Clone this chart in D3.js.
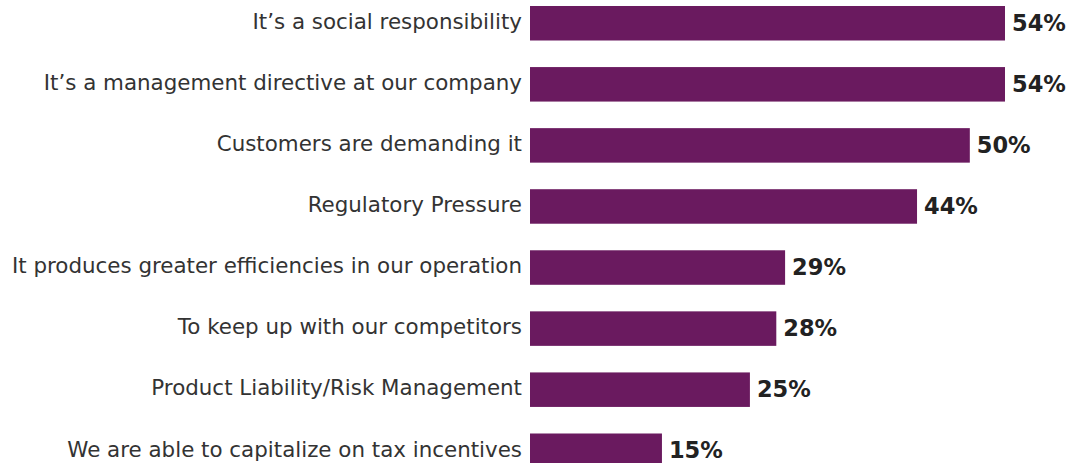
<!DOCTYPE html>
<html>
<head>
<meta charset="utf-8">
<script src="https://cdn.jsdelivr.net/npm/d3@7"></script>
<style>
  html, body { margin: 0; padding: 0; background: #ffffff; }
  svg { display: block; }
</style>
</head>
<body>
<svg id="chart" width="1073" height="463"></svg>
<script>
// Reasons given for the initiative, share of respondents (%)
const categories = [
  "It\u2019s a social responsibility",
  "It\u2019s a management directive at our company",
  "Customers are demanding it",
  "Regulatory Pressure",
  "It produces greater efficiencies in our operation",
  "To keep up with our competitors",
  "Product Liability/Risk Management",
  "We are able to capitalize on tax incentives"
];
const values = [54, 54, 50, 44, 29, 28, 25, 15];
const valueLabels = values.map(v => v + "%");

const width = 1073, height = 463;
const svg = d3.select("#chart");

const x = d3.scaleLinear().domain([0, 54]).range([530, 1005]);
const y = d3.scaleBand()
  .domain(categories)
  .range([6, 468])
  .paddingInner(0.435)
  .paddingOuter(0);

// bars
svg.append("g")
  .selectAll("rect")
  .data(values)
  .join("rect")
  .attr("x", x(0))
  .attr("y", (d, i) => y(categories[i]))
  .attr("width", d => x(d) - x(0))
  .attr("height", y.bandwidth())
  .attr("fill", "#6a1a5f");

// category axis (labels only)
const axis = d3.axisLeft(y).tickSize(0).tickPadding(8);
const gAxis = svg.append("g")
  .attr("transform", `translate(${x(0)},0)`)
  .call(axis);
gAxis.select(".domain").remove();
gAxis.selectAll("text")
  .attr("fill", "#333333")
  .attr("dy", "0.27em")
  .style("font-family", "'DejaVu Sans', Verdana, sans-serif")
  .style("font-size", "21.4px");

// value labels
svg.append("g")
  .selectAll("text")
  .data(values)
  .join("text")
  .attr("x", d => x(d) + 7)
  .attr("y", (d, i) => y(categories[i]) + y.bandwidth() / 2)
  .attr("dy", "0.34em")
  .attr("fill", "#222222")
  .style("font-family", "'DejaVu Sans', Verdana, sans-serif")
  .style("font-weight", "bold")
  .style("font-size", "22.5px")
  .text((d, i) => valueLabels[i]);
</script>
</body>
</html>
